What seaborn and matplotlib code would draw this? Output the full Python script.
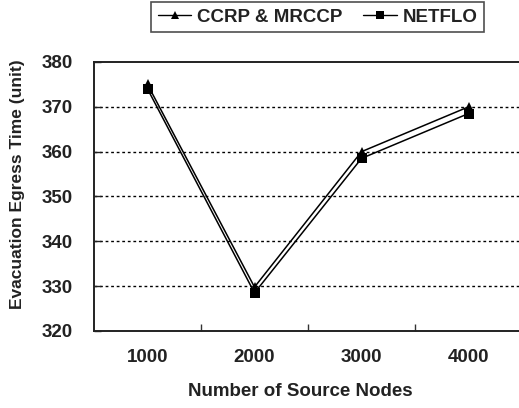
import matplotlib
matplotlib.use("Agg")
import matplotlib.pyplot as plt
from matplotlib.lines import Line2D
from matplotlib.ticker import FixedLocator
import seaborn as sns
import pandas as pd

categories = ["1000", "2000", "3000", "4000"]
ccrp_mrccp = [375.0, 329.8, 360.0, 370.0]
netflo = [374.0, 328.5, 358.5, 368.5]
y_ticks = [320, 330, 340, 350, 360, 370, 380]

sns.set_theme(style="white")
plt.rcParams["font.family"] = ["Liberation Sans", "DejaVu Sans"]
plt.rcParams["font.weight"] = "bold"

df = pd.DataFrame({
    "nodes": categories * 2,
    "time": ccrp_mrccp + netflo,
    "series": ["CCRP & MRCCP"] * 4 + ["NETFLO"] * 4,
})

fig = plt.figure(figsize=(5.19, 4.08), dpi=100)
ax = fig.add_axes([94 / 519, 1 - 331 / 408, (522 - 94) / 519, (331 - 62) / 408])

sns.lineplot(data=df, x="nodes", y="time", hue="series", style="series",
             markers={"CCRP & MRCCP": "^", "NETFLO": "s"}, dashes=False,
             palette={"CCRP & MRCCP": "black", "NETFLO": "black"},
             markersize=7, linewidth=1.1, markeredgewidth=0, ax=ax, legend=False)

ax.set_xlim(-0.5, 3.5)
ax.set_ylim(320, 380)
ax.set_yticks(y_ticks)
ax.set_yticklabels([str(v) for v in y_ticks], fontsize=13.5, fontweight="bold")
ax.set_xticks(range(len(categories)))
ax.set_xticklabels(categories, fontsize=13.5, fontweight="bold")
ax.xaxis.set_minor_locator(FixedLocator([0.5, 1.5, 2.5]))
ax.tick_params(axis="x", which="major", length=0, pad=13, colors="#222222")
ax.tick_params(axis="x", which="minor", direction="in", length=5, width=1, color="#333333", bottom=True)
ax.tick_params(axis="y", which="major", direction="in", length=5, width=1, pad=15, colors="#222222", left=True)
for v in [330, 340, 350, 360, 370]:
    ax.axhline(v, color="black", linestyle=(0, (2, 2)), linewidth=1, zorder=0)
for s in ["left", "bottom", "top"]:
    ax.spines[s].set_color("#222222")
    ax.spines[s].set_linewidth(1.4)
ax.spines["right"].set_visible(False)

ax.set_xlabel("Number of Source Nodes", fontsize=13.5, fontweight="bold", color="#222222")
ax.set_ylabel("Evacuation Egress Time (unit)", fontsize=12.5, fontweight="bold", color="#222222")
ax.xaxis.set_label_coords((300 - 94) / 428, -(383 - 331) / 269)
ax.yaxis.set_label_coords((25 - 94) / 428, (331 - 184) / 269)

handles = [
    Line2D([], [], color="black", marker="^", markersize=6, linewidth=1.0, markeredgewidth=0),
    Line2D([], [], color="black", marker="s", markersize=5.5, linewidth=1.0, markeredgewidth=0),
]
leg = fig.legend(handles, ["CCRP & MRCCP", "NETFLO"], loc="upper center",
                 bbox_to_anchor=(317.5 / 519, 1 - 2 / 408), ncol=2, frameon=True,
                 fancybox=False, edgecolor="#222222", borderaxespad=0,
                 handlelength=1.8, handletextpad=0.3, columnspacing=1.1,
                 borderpad=0.35, prop={"weight": "bold", "size": 13.5})
leg.get_frame().set_linewidth(1.2)
for t in leg.get_texts():
    t.set_color("#222222")

fig.savefig("out.png", dpi=100)
